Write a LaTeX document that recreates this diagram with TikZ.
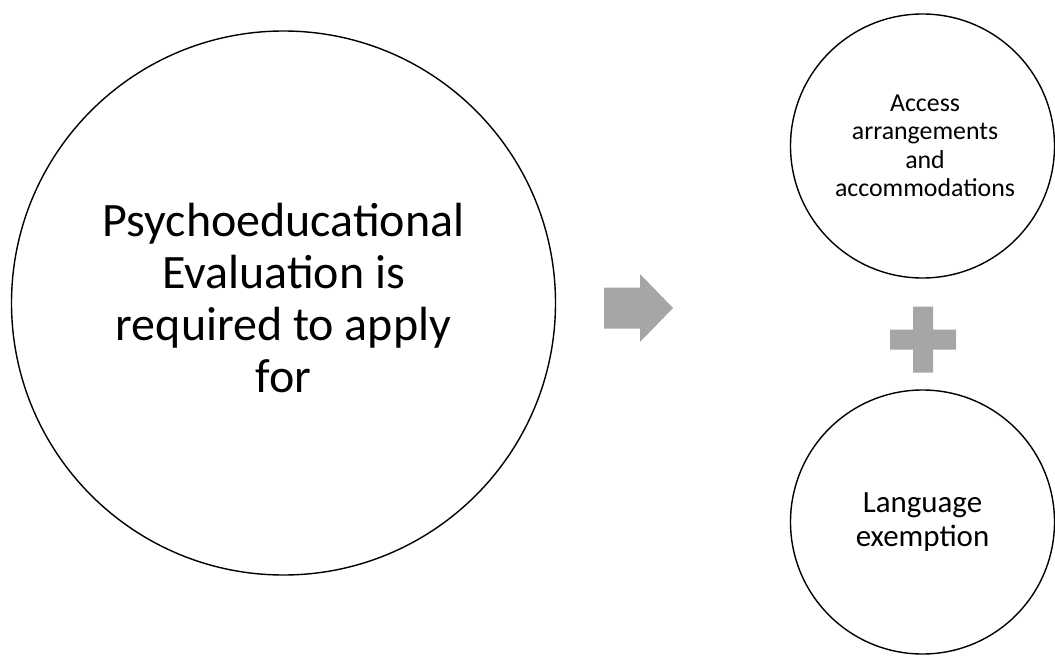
\documentclass[tikz,border=0pt]{standalone}
\usepackage{fontspec}
\setmainfont{Carlito}
\definecolor{signgray}{RGB}{166,166,166}
\begin{document}
\begin{tikzpicture}[sign/.style={fill=signgray}]
\useasboundingbox (0,0) rectangle (21.1,13.18);
\coordinate (P) at (5.67,7.12);
\coordinate (A) at (18.45,10.26);
\coordinate (L) at (18.45,2.74);
\coordinate (then) at (12.08,7.02);
\coordinate (plus) at (18.46,6.39);
\draw[thick] (P) circle (5.44);
\draw[thick] (A) circle (2.64);
\draw[thick] (L) circle (2.64);
\node[align=center,yshift=0.1cm,font=\fontsize{27.3}{29.5}\selectfont] (eval) at (P) {Psychoeducational\\Evaluation is\\required to apply\\for};
\node[align=center,xshift=0.05cm,font=\fontsize{14.7}{16.2}\selectfont] (access) at (A) {Access\\arrangements\\and\\accommodations};
\node[align=center,font=\fontsize{17.6}{19.3}\selectfont] (lang) at (L) {Language\\exemption};
% arrow and plus sign
\fill[sign,shift={(then)}] (0,-0.41) -- (0.72,-0.41) -- (0.72,-0.68) -- (1.38,0) -- (0.72,0.68) -- (0.72,0.41) -- (0,0.41) -- cycle;
\fill[sign,shift={(plus)}] (-0.2,-0.66) rectangle (0.2,0.66) (-0.66,-0.2) rectangle (0.66,0.2);
\end{tikzpicture}
\end{document}
